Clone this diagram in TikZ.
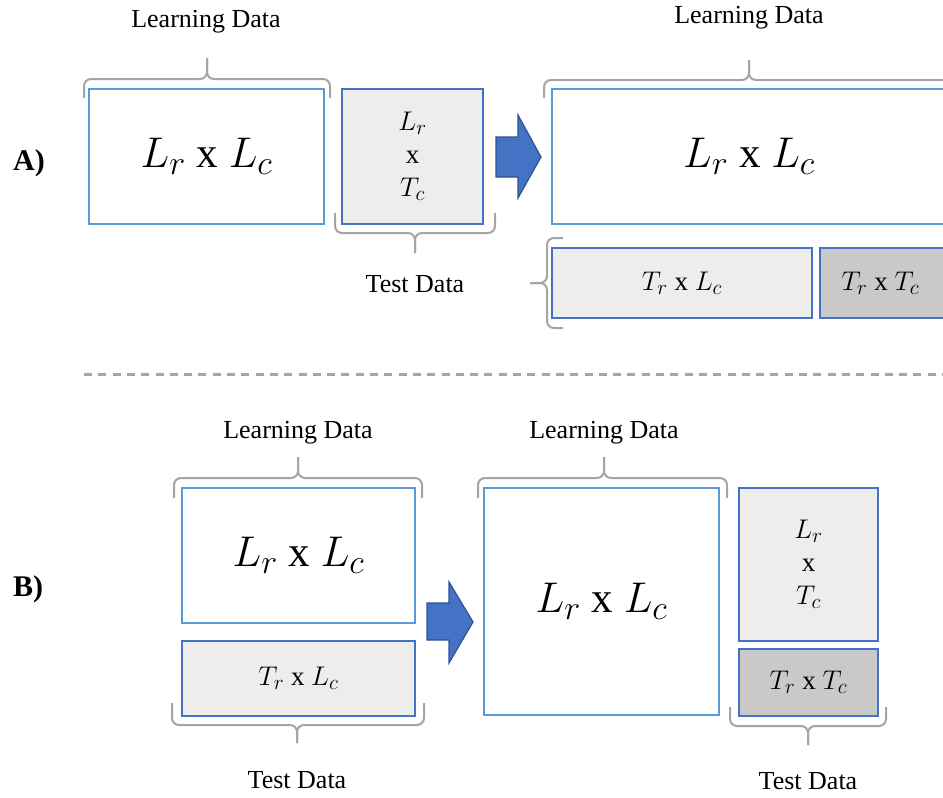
\RequirePackage{fix-cm}
\documentclass[tikz,border=0pt]{standalone}
\usepackage{fontspec}
\setmainfont{Liberation Serif}
\DeclareMathSizes{43}{43}{34}{26}
\DeclareMathSizes{27}{27}{21}{16}
\definecolor{lblue}{HTML}{5B9BD5}
\definecolor{dblue}{HTML}{4472C4}
\definecolor{darkblue}{HTML}{2F528F}
\definecolor{lgray}{HTML}{EDEDED}
\definecolor{mgray}{HTML}{C9C9C9}
\definecolor{bgray}{HTML}{A5A5A5}
\newcommand\bracepath[6]{% x1 x2 yhoriz yend xmid ytip (horizontal brace)
  \draw[brace] (#1,#4) -- (#1,#3) -- (#5,#3) -- (#5,#6);
  \draw[brace] (#2,#4) -- (#2,#3) -- (#5,#3) -- (#5,#6);}
\begin{document}
\begin{tikzpicture}[x=1pt,y=-1pt,
  lbox/.style={draw=lblue, line width=2pt, fill=white, inner sep=0pt},
  gbox/.style={draw=dblue, line width=2pt, fill=lgray, inner sep=0pt},
  dbox/.style={draw=dblue, line width=2pt, fill=mgray, inner sep=0pt},
  brace/.style={draw=bgray, line width=2pt, rounded corners=7pt},
  lab/.style={font=\fontsize{26}{30}\selectfont, inner sep=0pt},
  sec/.style={font=\fontsize{30}{34}\selectfont\bfseries, inner sep=0pt},
  big/.style={font=\fontsize{43}{47}\selectfont},
  small/.style={font=\fontsize{27}{33}\selectfont, align=center},
  blockarrow/.style={fill=dblue, draw=darkblue, line width=1.2pt}]
\useasboundingbox (0,0) rectangle (943,798);
\clip (0,0) rectangle (943,798);
\fill[white] (0,0) rectangle (943,798);

% ---------- A ----------
\node[sec] (labA) at (29,163) {A)};
\node[lbox, minimum width=235pt, minimum height=135pt, big] (a1) at (206.5,156.5) {$L_r$ x $L_c$};
\node[gbox, minimum width=141pt, minimum height=135pt, small] (a2) at (412.5,156.5) {$L_r$\\x\\$T_c$};
\node[lbox, minimum width=394pt, minimum height=135pt, big] (a3) at (749,156.5) {$L_r$ x $L_c$};
\node[gbox, minimum width=260pt, minimum height=70pt, small] (a4) at (682,283) {$T_r$ x $L_c$};
\node[dbox, minimum width=130pt, minimum height=70pt] (a5) at (885,283) {};
\node[small] (a5t) at (880.5,283) {$T_r$ x $T_c$};

\bracepath{84}{330}{79}{98}{207}{58}
\bracepath{335}{495}{233}{213}{415}{253}
\bracepath{544}{954}{80}{98}{749}{60}
\draw[brace] (563,238) -- (547,238) -- (547,283) -- (530,283);
\draw[brace] (563,328) -- (547,328) -- (547,283) -- (530,283);

\node[lab] (ldA1) at (206,22) {Learning Data};
\node[lab] (ldA2) at (749,18) {Learning Data};
\node[lab] (tdA) at (415,284) {Test Data};

\draw[blockarrow] (496,137) -- (518,137) -- (518,115) -- (541,157) -- (518,198) -- (518,177) -- (496,177) -- cycle;

% ---------- separator ----------
\draw[bgray, line width=3pt, dash pattern=on 8pt off 6.3pt] (84,374) -- (950,374);

% ---------- B ----------
\node[sec] (labB) at (28,589) {B)};
\node[lbox, minimum width=233pt, minimum height=135pt, big] (b1) at (298.5,555.5) {$L_r$ x $L_c$};
\node[gbox, minimum width=233pt, minimum height=75pt, small] (b2) at (298.5,678.5) {$T_r$ x $L_c$};
\node[lbox, minimum width=235pt, minimum height=227pt, big] (b3) at (601.5,601.5) {$L_r$ x $L_c$};
\node[gbox, minimum width=139pt, minimum height=153pt, small] (b4) at (808.5,564.5) {$L_r$\\x\\$T_c$};
\node[dbox, minimum width=139pt, minimum height=67pt, small] (b5) at (808.5,682.5) {$T_r$ x $T_c$};

\bracepath{174}{422}{478}{498}{298}{457}
\bracepath{172}{424}{725}{703}{297}{743}
\bracepath{478}{727}{478}{498}{604}{457}
\bracepath{730}{886}{726}{707}{808}{745}

\node[lab] (ldB1) at (298,433) {Learning Data};
\node[lab] (ldB2) at (604,433) {Learning Data};
\node[lab] (tdB1) at (297,780) {Test Data};
\node[lab] (tdB2) at (808,781) {Test Data};

\draw[blockarrow] (427,603) -- (449,603) -- (449,582) -- (473,622) -- (449,663) -- (449,640) -- (427,640) -- cycle;
\end{tikzpicture}
\end{document}
